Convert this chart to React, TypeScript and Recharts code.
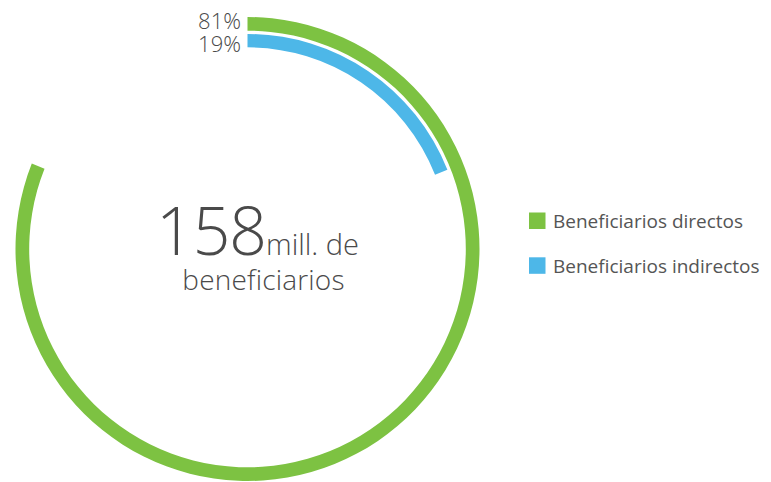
import { PieChart, Pie, Cell } from "recharts";

const categories = ["Beneficiarios directos", "Beneficiarios indirectos"];
const shares = [81, 19];
const colors = ["#7DC242", "#4DB7E8"];
const totalValue = "158";
const totalUnit = "mill. de";
const totalCaption = "beneficiarios";

const FONT = "'Open Sans', sans-serif";
const TEXT = "#4a4a4a";

const CX = 247.5;
const CY = 249;
const rings = [
  { inner: 218.3, outer: 232 },
  { inner: 201.7, outer: 215 },
];

export default function App() {
  return (
    <div style={{ position: "absolute", top: 0, left: 0, width: 771, height: 482, background: "#fff", fontFamily: FONT }}>
      <PieChart width={771} height={482} margin={{ top: 0, right: 0, bottom: 0, left: 0 }}>
        {shares.map((v, i) => (
          <Pie
            key={categories[i]}
            data={[
              { name: categories[i], value: v },
              { name: "rest", value: 100 - v },
            ]}
            dataKey="value"
            cx={CX}
            cy={CY}
            startAngle={90}
            endAngle={-270}
            innerRadius={rings[i].inner}
            outerRadius={rings[i].outer}
            stroke="none"
            isAnimationActive={false}
          >
            <Cell fill={colors[i]} />
            <Cell fill="transparent" />
          </Pie>
        ))}
      </PieChart>

      <svg width={771} height={482} style={{ position: "absolute", top: 0, left: 0 }} fontFamily={FONT}>
        {/* percentage labels at the start of each ring */}
        {shares.map((v, i) => (
          <text key={"p" + i} x={241} y={29 + i * 22.7} textAnchor="end" fontSize={22} fontWeight={300} fill={TEXT}>
            {v}%
          </text>
        ))}

        {/* center text */}
        <text x={156} y={255} fill={TEXT} fontWeight={300}>
          <tspan fontSize={66} letterSpacing={-1}>{totalValue}</tspan>
          <tspan fontSize={29}>{totalUnit}</tspan>
        </text>
        <text x={263.5} y={290} textAnchor="middle" fill={TEXT} fontWeight={300} fontSize={28} letterSpacing={0.2}>
          {totalCaption}
        </text>

        {/* legend */}
        {categories.map((c, i) => (
          <g key={c}>
            <rect x={529} y={212.5 + i * 44.8} width={16.5} height={16.5} fill={colors[i]} />
            <text x={553} y={228 + i * 45} fontSize={19} fill="#555">
              {c}
            </text>
          </g>
        ))}
      </svg>
    </div>
  );
}
